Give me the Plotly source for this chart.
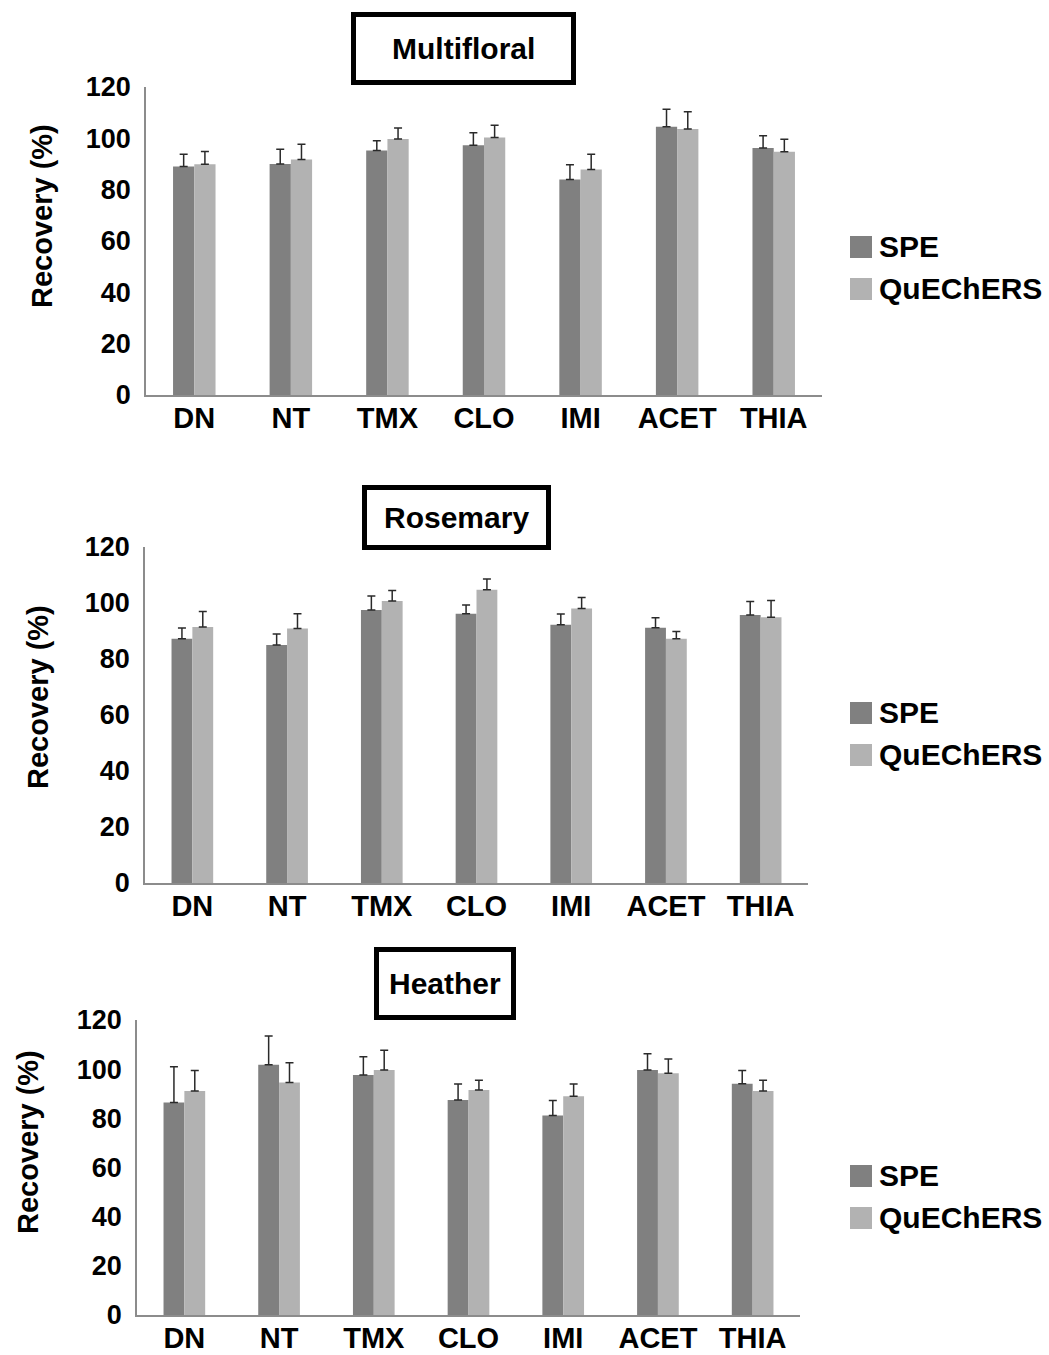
import plotly.graph_objects as go

W, H = 1049, 1355

categories = ["DN", "NT", "TMX", "CLO", "IMI", "ACET", "THIA"]
series_names = ["SPE", "QuEChERS"]
panel_titles = ["Multifloral", "Rosemary", "Heather"]
y_title = "Recovery (%)"
y_ticks = [0, 20, 40, 60, 80, 100, 120]

# Multifloral
multi_spe = [89.0, 90.0, 95.3, 97.3, 84.0, 104.5, 96.2]
multi_spe_err = [4.8, 5.7, 3.8, 4.9, 5.7, 6.8, 4.8]
multi_que = [89.9, 91.8, 99.7, 100.3, 87.9, 103.6, 94.8]
multi_que_err = [5.0, 5.9, 4.3, 4.8, 5.9, 6.8, 4.8]

# Rosemary
rose_spe = [87.2, 85.0, 97.5, 96.2, 92.2, 91.2, 95.7]
rose_spe_err = [3.9, 3.9, 5.0, 3.1, 3.9, 3.5, 4.8]
rose_que = [91.4, 90.9, 100.7, 104.7, 98.0, 87.2, 94.9]
rose_que_err = [5.6, 5.3, 3.8, 3.9, 4.0, 2.6, 6.0]

# Heather
heat_spe = [86.4, 101.8, 97.6, 87.5, 81.2, 99.7, 94.1]
heat_spe_err = [14.6, 11.7, 7.5, 6.5, 6.1, 6.6, 5.4]
heat_que = [91.1, 94.6, 99.7, 91.5, 89.0, 98.3, 91.1]
heat_que_err = [8.4, 8.0, 8.0, 4.0, 5.0, 5.8, 4.4]

panels = [
    (multi_spe, multi_spe_err, multi_que, multi_que_err),
    (rose_spe, rose_spe_err, rose_que, rose_que_err),
    (heat_spe, heat_spe_err, heat_que, heat_que_err),
]

# layout geometry in pixels: (x_left, x_right, y_top(120), y_bottom(0))
plot_px = [(146, 822, 87, 395), (145, 808, 547, 883), (137, 800, 1020, 1315)]
title_box_px = [(351, 576, 12, 85), (362, 551, 485, 550), (374, 516, 947, 1020)]
legend_top_px = [219, 685, 1148]
legend_item_px = [(247, 289), (713, 755), (1176, 1218)]
ytitle_px = [(42, 216), (38, 697), (28, 1142)]

colors = ["#808080", "#b2b2b2"]
FONT = "Liberation Sans"

def px_x(x):
    return x / W

def px_y(y):
    return 1 - y / H

fig = go.Figure()
layout = dict(
    width=W, height=H, autosize=False,
    margin=dict(l=0, r=0, t=0, b=0, pad=0, autoexpand=False),
    paper_bgcolor="white", plot_bgcolor="white",
    barmode="group", bargap=0.56, bargroupgap=0.0,
    font=dict(family=FONT, color="black"),
    shapes=[], annotations=[],
)

for i, (spe, spe_err, que, que_err) in enumerate(panels):
    n = "" if i == 0 else str(i + 1)
    xa, ya = "x" + n, "y" + n
    leg = "legend" + n
    for vals, errs, name, col in [(spe, spe_err, series_names[0], colors[0]),
                                  (que, que_err, series_names[1], colors[1])]:
        fig.add_trace(go.Bar(
            x=categories, y=vals, name=name, marker_color=col,
            marker_line=dict(width=0),
            error_y=dict(type="data", symmetric=False, array=errs,
                         arrayminus=[0] * len(errs), color="#2a2a2a",
                         thickness=1.5, width=4),
            xaxis=xa, yaxis=ya, legend=leg, showlegend=True,
        ))
    xl, xr, yt, yb = plot_px[i]
    layout["xaxis" + n] = dict(
        domain=[px_x(xl), px_x(xr)], anchor=ya, automargin=False,
        showline=True, linecolor="#8c8c8c", linewidth=1.5,
        ticks="", ticklabelstandoff=-4,
        tickfont=dict(size=29, family=FONT, weight="bold"),
        showgrid=False, zeroline=False, fixedrange=True,
    )
    layout["yaxis" + n] = dict(
        domain=[px_y(yb), px_y(yt)], anchor=xa, range=[0, 120], automargin=False,
        tickvals=y_ticks, showline=True, linecolor="#8c8c8c", linewidth=1.5,
        ticks="outside", ticklen=8, tickcolor="rgba(0,0,0,0)",
        tickfont=dict(size=27, family=FONT, weight="bold"),
        showgrid=False, zeroline=False, fixedrange=True,
    )
    layout[leg] = dict(
        x=px_x(839), xanchor="left", y=px_y(legend_top_px[i]), yanchor="top",
        bgcolor="rgba(0,0,0,0)", font=dict(size=30, family=FONT, weight="bold"),
        tracegroupgap=0, itemclick=False, itemdoubleclick=False,
    )
    # enlarge the legend key squares to match the original swatch size
    for cy, col in zip(legend_item_px[i], colors):
        layout["shapes"].append(dict(
            type="rect", xref="paper", yref="paper", layer="above",
            x0=px_x(850), x1=px_x(872), y0=px_y(cy + 11), y1=px_y(cy - 11),
            line=dict(width=0), fillcolor=col,
        ))
    tx, ty = ytitle_px[i]
    layout["annotations"].append(dict(
        text=y_title, xref="paper", yref="paper",
        x=px_x(tx), y=px_y(ty), xanchor="center", yanchor="middle",
        textangle=-90, showarrow=False,
        font=dict(size=29, family=FONT, weight="bold", color="black"),
    ))
    bx0, bx1, by0, by1 = title_box_px[i]
    lw = 5
    layout["shapes"].append(dict(
        type="rect", xref="paper", yref="paper",
        x0=px_x(bx0 + lw / 2), x1=px_x(bx1 - lw / 2),
        y0=px_y(by0 + lw / 2), y1=px_y(by1 - lw / 2),
        line=dict(color="black", width=lw), fillcolor="white",
    ))
    layout["annotations"].append(dict(
        text=panel_titles[i], xref="paper", yref="paper",
        x=px_x((bx0 + bx1) / 2), y=px_y((by0 + by1) / 2),
        xanchor="center", yanchor="middle", showarrow=False,
        font=dict(size=30, family=FONT, weight="bold", color="black"),
    ))

fig.update_layout(**layout)
fig.write_html("out.html", config={"displayModeBar": False},
               post_script="document.body.style.margin='0';document.body.style.padding='0';")
